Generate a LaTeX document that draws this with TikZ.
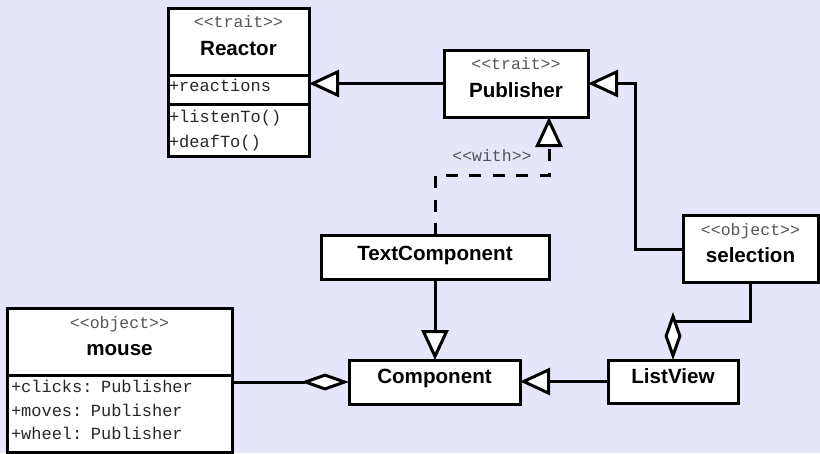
\documentclass[tikz,border=0pt]{standalone}
\usepackage{fontspec}
\setmainfont{Liberation Sans}
\newfontfamily\umlmono{Liberation Mono}
\usetikzlibrary{arrows.meta,positioning}

\definecolor{bgcol}{RGB}{230,230,250}
\definecolor{stgray}{RGB}{85,85,85}
\definecolor{fieldcol}{RGB}{40,40,40}

\newcommand{\stereo}[1]{{\umlmono\fontsize{16.5}{20}\selectfont\color{stgray}<\kern0pt<#1>\kern0pt>}}
\newcommand{\cname}[1]{{\bfseries\fontsize{20.6}{24}\selectfont #1}}

\begin{document}
\begin{tikzpicture}[x=1pt,y=-1pt,
  cls/.style={draw,fill=white,line width=3pt,outer sep=0pt,inner ysep=0pt,align=center},
  hdr/.style={cls,inner xsep=0pt,text height=47pt,text depth=20pt,font=\fontsize{16.5}{27.5}\selectfont},
  one/.style={cls,inner xsep=0pt,font=\bfseries\fontsize{20.6}{24}\selectfont},
  flds/.style={cls,align=left,font=\umlmono\fontsize{17}{25}\selectfont,text=fieldcol},
  gen/.style={-{Triangle[fill=white,length=30pt,width=27pt]},line width=3pt},
  agg/.style={{Diamond[fill=white,length=48pt,width=17pt]}-,line width=3pt}]
  \fill[bgcol](0,0)rectangle(820,453);
  \clip(0,0)rectangle(820,453);
  % traits
  \node[hdr,minimum width=141pt](reactor)at(238.5,41.5){\stereo{trait}\\\cname{Reactor}};
  \node[flds,text width=139pt,inner xsep=1pt,text height=16.7pt,text depth=12.3pt,below=0pt of reactor](reactorAttr){+reactions};
  \node[flds,text width=139pt,inner xsep=1pt,text height=18pt,text depth=34pt,below=0pt of reactorAttr](reactorOps){+listenTo()\\+deafTo()};
  \node[hdr,minimum width=144pt](pub)at(516,83.5){\stereo{trait}\\\cname{Publisher}};
  % objects
  \node[hdr,minimum width=135pt](sel)at(750.5,249){\stereo{object}\\\cname{selection}};
  \node[hdr,minimum width=225pt](mouse)at(119.5,342){\stereo{object}\\\cname{mouse}};
  \node[flds,text width=217pt,inner xsep=4pt,text height=17pt,text depth=60pt,font=\umlmono\fontsize{17}{23.7}\selectfont,below=0pt of mouse](mouseAttr){+clicks: Publisher\\+moves: Publisher\\+wheel: Publisher};
  % classes
  \node[one,minimum width=228pt,text height=25pt,text depth=19pt](textComp)at(435,257){TextComponent};
  \node[one,minimum width=171pt,text height=23pt,text depth=21pt](comp)at(434.5,382){Component};
  \node[one,minimum width=130pt,text height=23pt,text depth=20pt](listView)at(673,381.5){ListView};
  % relations
  \coordinate(selBend)at(635,249);
  \coordinate(withBend)at(549,175);
  \coordinate(selDrop)at(673,321);
  \draw[gen](pub.west)--(pub.west-|reactorAttr.east);
  \draw[gen](sel.west)--(selBend)|-(pub.east);
  \draw[gen,dash pattern=on 12pt off 11.5pt](textComp.north)|-node[pos=0.75,above=12pt,inner sep=0pt](withLbl){\stereo{with}}(withBend)--(withBend|-pub.south);
  \draw[gen](textComp.south)--(textComp.south|-comp.north);
  \draw[gen](listView.west)--(listView.west-|comp.east);
  \draw[agg](comp.west)--(comp.west-|mouseAttr.east);
  \draw[agg](listView.north)--(selDrop)-|(sel.south);
\end{tikzpicture}
\end{document}
